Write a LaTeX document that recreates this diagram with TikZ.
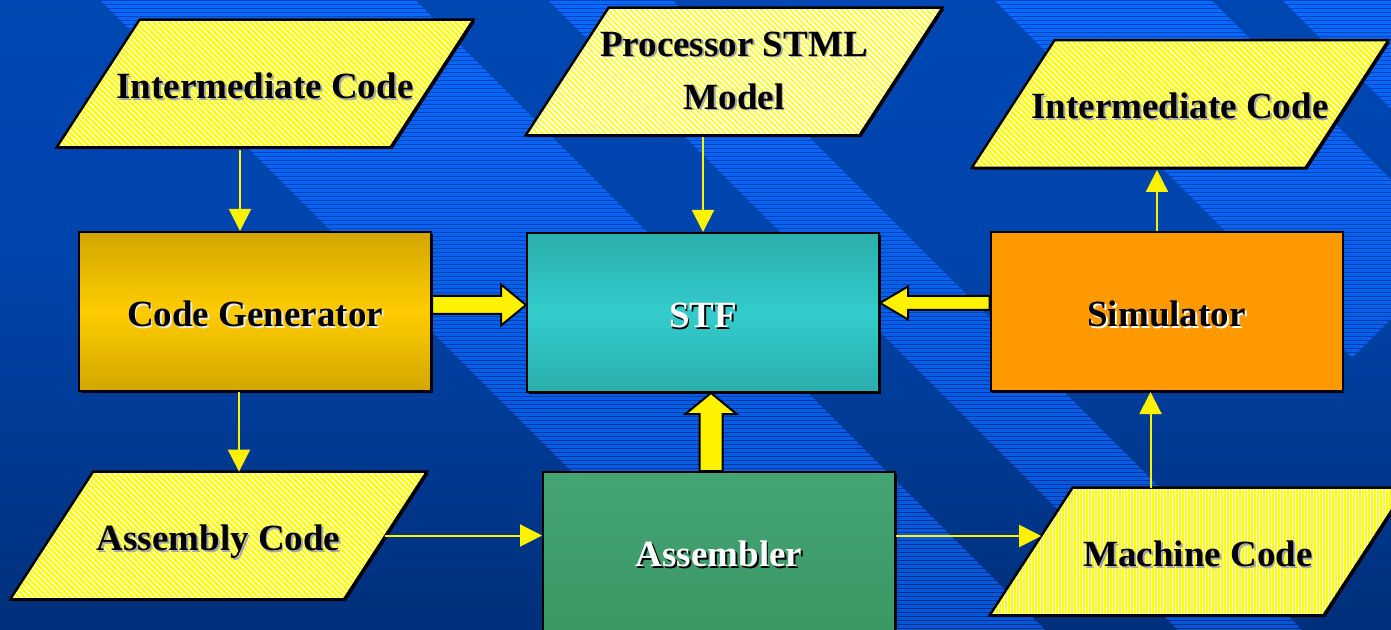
\documentclass[tikz,border=0pt]{standalone}
\usepackage{fontspec}
\setmainfont{Liberation Serif}
\usetikzlibrary{arrows.meta,calc,shadows}

\definecolor{bgtop}{HTML}{004BBB}
\definecolor{bgmid}{HTML}{0044AC}
\definecolor{bgbot}{HTML}{001E50}
\definecolor{bandtop}{HTML}{0A68FF}
\definecolor{bandbot}{HTML}{0656DC}
\definecolor{hatchyel}{HTML}{FFFF00}
\definecolor{palewhite}{HTML}{FFFFF2}
\definecolor{goldedge}{HTML}{D2A600}
\definecolor{goldmid}{HTML}{FFCC00}
\definecolor{tealedge}{HTML}{2AAEAC}
\definecolor{tealmid}{HTML}{33CCCC}
\definecolor{simorange}{HTML}{FF9900}
\definecolor{asmtop}{HTML}{44A474}
\definecolor{asmbot}{HTML}{3A9864}

\pgfdeclareverticalshading{slidebg}{100bp}{color(0bp)=(bgbot); color(55bp)=(bgmid); color(100bp)=(bgtop)}

\pgfdeclarelayer{sky}
\pgfdeclarelayer{back}
\pgfsetlayers{sky,back,main}

% text with a small offset shadow behind it
\newcommand{\shtxt}[2]{\leavevmode\rlap{\kern0.9pt\raisebox{-0.9pt}{\textcolor{#1}{#2}}}#2}

% parallelogram behind a data node: #1 node name, #2 fill style
\newcommand{\paral}[2]{%
  \begin{pgfonlayer}{back}
    \fill[black] ($(#1.south west)+(-39.7,1.8)$) -- ($(#1.south east)+(-39.7,1.8)$)
      -- ($(#1.north east)+(43.3,1.8)$) -- ($(#1.north west)+(43.3,1.8)$) -- cycle;
    \path[#2, draw=black, line width=1.2pt, line join=miter]
      ($(#1.south west)+(-41.5,0)$) -- ($(#1.south east)+(-41.5,0)$)
      -- ($(#1.north east)+(41.5,0)$) -- ($(#1.north west)+(41.5,0)$) -- cycle;
  \end{pgfonlayer}}

\tikzset{
  boxfont/.style={font=\bfseries\fontsize{18.5}{26.5}\selectfont},
  dropsh/.style={drop shadow={shadow xshift=0.9pt, shadow yshift=-0.9pt, fill=black, opacity=1}},
  datanode/.style={rectangle, inner sep=0pt, minimum width=166.5pt, minimum height=63.5pt,
    boxfont, align=center, text=black},
  oneline/.style={text height=14.8pt, text depth=0pt},
  diaghatch/.style n args={3}{fill=#1, path picture={
    \foreach \k in {-28,...,78}{
      \draw[#2, line width=#3] ([xshift=\k*2.85pt]path picture bounding box.north west) -- ++(80pt,-80pt);}}},
  verthatch/.style={fill=hatchyel, path picture={
    \foreach \k in {0,...,145}{
      \draw[white, line width=0.5pt] ([xshift=\k*1.5pt]path picture bounding box.north west) -- ++(0,-80pt);}}},
  procbox/.style={rectangle, draw=black, line width=1pt, minimum width=176pt, minimum height=79.5pt,
    inner sep=0pt, boxfont, oneline, dropsh},
  thinarr/.style={draw=yellow, line width=1pt, -{Triangle[length=11pt,width=11pt]}},
  bigarrow/.style={fill=yellow, draw=black, line width=1pt, line join=miter},
}

\begin{document}
\begin{tikzpicture}[x=0.5pt, y=-0.5pt]
\useasboundingbox (0,0) rectangle (1391,630);
\clip (0,0) rectangle (1391,630);

\begin{pgfonlayer}{sky}
  % slide background
  \shade[shading=slidebg] (0,0) rectangle (1391,630);
  % diagonal bands of fine horizontal lines
  \begin{scope}
    \clip (100,0) -- (415,0) -- (1045,630) -- (730,630) -- cycle
          (548,0) -- (672,0) -- (1302,630) -- (1178,630) -- cycle
          (994,0) -- (1211,0) -- (1460.5,249.5) -- (1352,358) -- cycle
          (1282,0) -- (2000,0) -- (2000,718) -- cycle;
    \foreach \y in {0,4,...,628}{
      \pgfmathtruncatemacro\p{100-\y/6.3}
      \draw[line width=1.35pt, draw=bandtop!\p!bandbot] (0,\y+2.5) -- (1391,\y+2.5);
    }
  \end{scope}
\end{pgfonlayer}

% data nodes (parallelograms)
\node[datanode, oneline] (ic1) at (265,83.5) {\shtxt{black!35}{Intermediate Code}};
\paral{ic1}{diaghatch={hatchyel}{white}{0.62pt}}
\node[datanode] (psm) at (734,71.5) {\shtxt{black!35}{Processor STML}\\\shtxt{black!35}{Model}};
\paral{psm}{diaghatch={palewhite}{hatchyel}{0.7pt}}
\node[datanode, oneline] (ic2) at (1180,104) {\shtxt{black!35}{Intermediate Code}};
\paral{ic2}{diaghatch={hatchyel}{white}{0.62pt}}
\node[datanode, oneline] (asc) at (218.5,535.5) {\shtxt{black!35}{Assembly Code}};
\paral{asc}{diaghatch={hatchyel}{white}{0.62pt}}
\node[datanode, oneline] (mc) at (1198,551.5) {\shtxt{black!35}{Machine Code}};
\paral{mc}{verthatch}

% processing boxes
\node[procbox, top color=goldedge, bottom color=goldedge, middle color=goldmid, text=black] (cg)
  at (255,311.5) {\shtxt{white!92!black}{Code Generator}};
\node[procbox, top color=tealedge, bottom color=tealedge, middle color=tealmid, text=white] (stf)
  at (703,312.5) {\shtxt{black}{STF}};
\node[procbox, fill=simorange, text=black] (sim)
  at (1166.5,311.5) {\shtxt{white}{Simulator}};
\node[procbox, top color=asmtop, bottom color=asmbot, text=white] (asr)
  at (719,551.5) {\shtxt{black}{Assembler}};

% thin flow arrows
\coordinate (cgin) at ($(cg.north)+(-15,0)$);
\draw[thinarr] ($(ic1.south -| cgin)+(0,3)$) -- (cgin);
\draw[thinarr] ($(psm.south -| stf.north)+(0,2)$) -- (stf.north);
\coordinate (cgout) at ($(cg.south)+(-16,0)$);
\draw[thinarr] (cgout) -- (cgout |- asc.north);
\draw[thinarr] (asc.east) -- (asc.east -| asr.west);
\coordinate (asrout) at ($(asr.east)+(0,-15.5)$);
\draw[thinarr] (asrout) -- ($(asrout -| mc.west)+(10.1,0)$);
\coordinate (simin) at ($(sim.south)+(-16,0)$);
\draw[thinarr] (simin |- mc.north) -- (simin);
\coordinate (simout) at ($(sim.north)+(-9.5,0)$);
\draw[thinarr] (simout) -- ($(simout |- ic2.south)+(0,2)$);

% block arrows into STF
\coordinate (a1b) at ($(cg.east)+(0,-6.5)$);
\coordinate (a1t) at (a1b -| stf.west);
\draw[bigarrow] ($(a1b)+(0,-9)$) -- ($(a1t)+(-25,-9)$) -- ($(a1t)+(-25,-20.5)$) -- (a1t)
  -- ($(a1t)+(-25,20.5)$) -- ($(a1t)+(-25,9)$) -- ($(a1b)+(0,9)$) -- cycle;

\coordinate (a2b) at ($(sim.west)+(0,-8.5)$);
\coordinate (a2t) at (a2b -| stf.east);
\draw[bigarrow] ($(a2b)+(0,-7)$) -- ($(a2t)+(28,-7)$) -- ($(a2t)+(28,-16.5)$) -- (a2t)
  -- ($(a2t)+(28,16.5)$) -- ($(a2t)+(28,7)$) -- ($(a2b)+(0,7)$) -- cycle;

\coordinate (a3b) at ($(asr.north)+(-8,0)$);
\coordinate (a3t) at (a3b |- stf.south);
\draw[bigarrow] ($(a3b)+(-11.5,0)$) -- ($(a3t)+(-11.5,21)$) -- ($(a3t)+(-25.5,21)$) -- (a3t)
  -- ($(a3t)+(25.5,21)$) -- ($(a3t)+(11.5,21)$) -- ($(a3b)+(11.5,0)$) -- cycle;
\end{tikzpicture}
\end{document}
